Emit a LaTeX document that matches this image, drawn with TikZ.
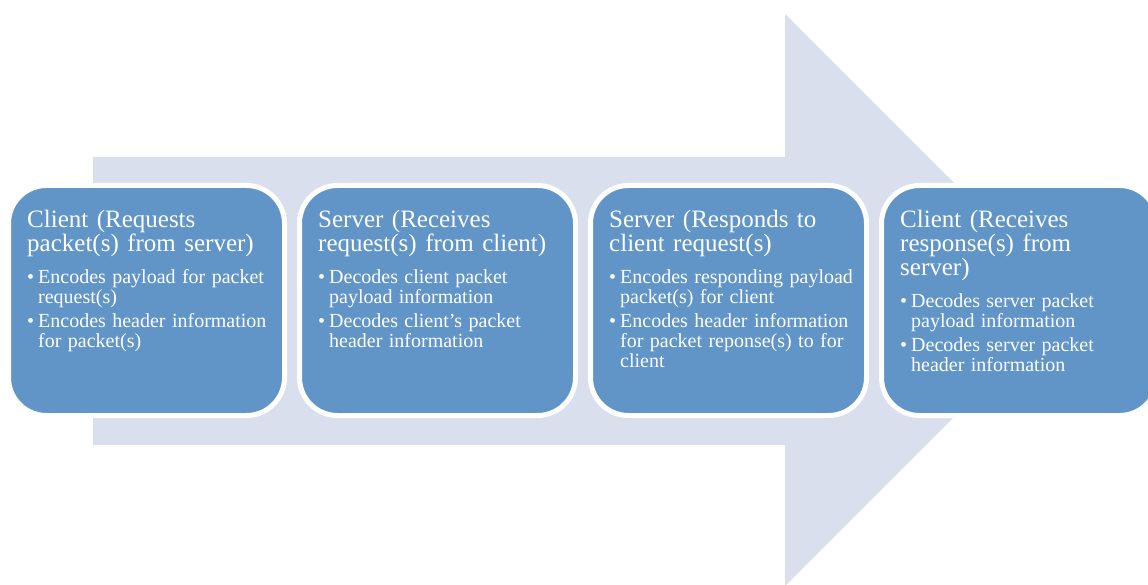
\documentclass[tikz,border=0pt]{standalone}
\usepackage{fontspec}
\setmainfont{Liberation Serif}
\usetikzlibrary{positioning}

\definecolor{flowgrey}{HTML}{DADFED}
\definecolor{stageblue}{HTML}{6195C8}

\newcommand{\bitem}[1]{\par\noindent\hangindent=11pt\hangafter=1
  \makebox[11pt][l]{\textbullet}#1\par}
\newcommand{\stagehead}[1]{{\fontsize{25}{24}\selectfont
  \spaceskip=0.34em plus 0.1em minus 0.05em #1\par}\vspace{8pt}
  \fontsize{20}{20}\selectfont\spaceskip=0.32em plus 0.1em minus 0.05em
  \parskip=4pt}

\tikzset{
  stage/.style = {rectangle, rounded corners=38pt, fill=stageblue, draw=white,
    line width=5pt, minimum width=276pt, minimum height=230pt, inner sep=0pt,
    outer sep=0pt},
  stagetext/.style = {anchor=north west, inner sep=0pt, text width=262pt,
    align=left, text=white},
}

\begin{document}
\begin{tikzpicture}[x=1pt, y=-1pt]
		\clip (0,0) rectangle (1148,585);
		\useasboundingbox (0,0) rectangle (1148,585);
		
		% big flow arrow behind the stages
		\fill [flowgrey] (93,157) -- (785,157) -- (785,14) -- (1071,300)
			-- (785,586) -- (785,445) -- (93,445) -- cycle;
		
		\node [stage] (b1) at (146.5,300.5) {};
		\node [stage, right=15pt of b1] (b2) {};
		\node [stage, right=15pt of b2] (b3) {};
		\node [stage, right=15pt of b3] (b4) {};
		
		\node [stagetext] (t1) at ([shift={(18.5,24.5)}]b1.north west) {%
			\stagehead{Client (Requests\\packet(s) from server)}%
			\bitem{Encodes payload for packet\newline request(s)}%
			\bitem{Encodes header information\newline for packet(s)}};
		\node [stagetext] (t2) at ([shift={(18.5,24.5)}]b2.north west) {%
			\stagehead{Server (Receives\\request(s) from client)}%
			\bitem{Decodes client packet\newline payload information}%
			\bitem{Decodes client's packet\newline header information}};
		\node [stagetext] (t3) at ([shift={(18.5,24.5)}]b3.north west) {%
			\stagehead{Server (Responds to\\client request(s)}%
			\bitem{Encodes responding payload\newline packet(s) for client}%
			\bitem{Encodes header information\newline for packet reponse(s) to for\newline client}};
		\node [stagetext] (t4) at ([shift={(18.5,24.5)}]b4.north west) {%
			\stagehead{Client (Receives\\response(s) from\\server)}%
			\bitem{Decodes server packet\newline payload information}%
			\bitem{Decodes server packet\newline header information}};
	\end{tikzpicture}
\end{document}
